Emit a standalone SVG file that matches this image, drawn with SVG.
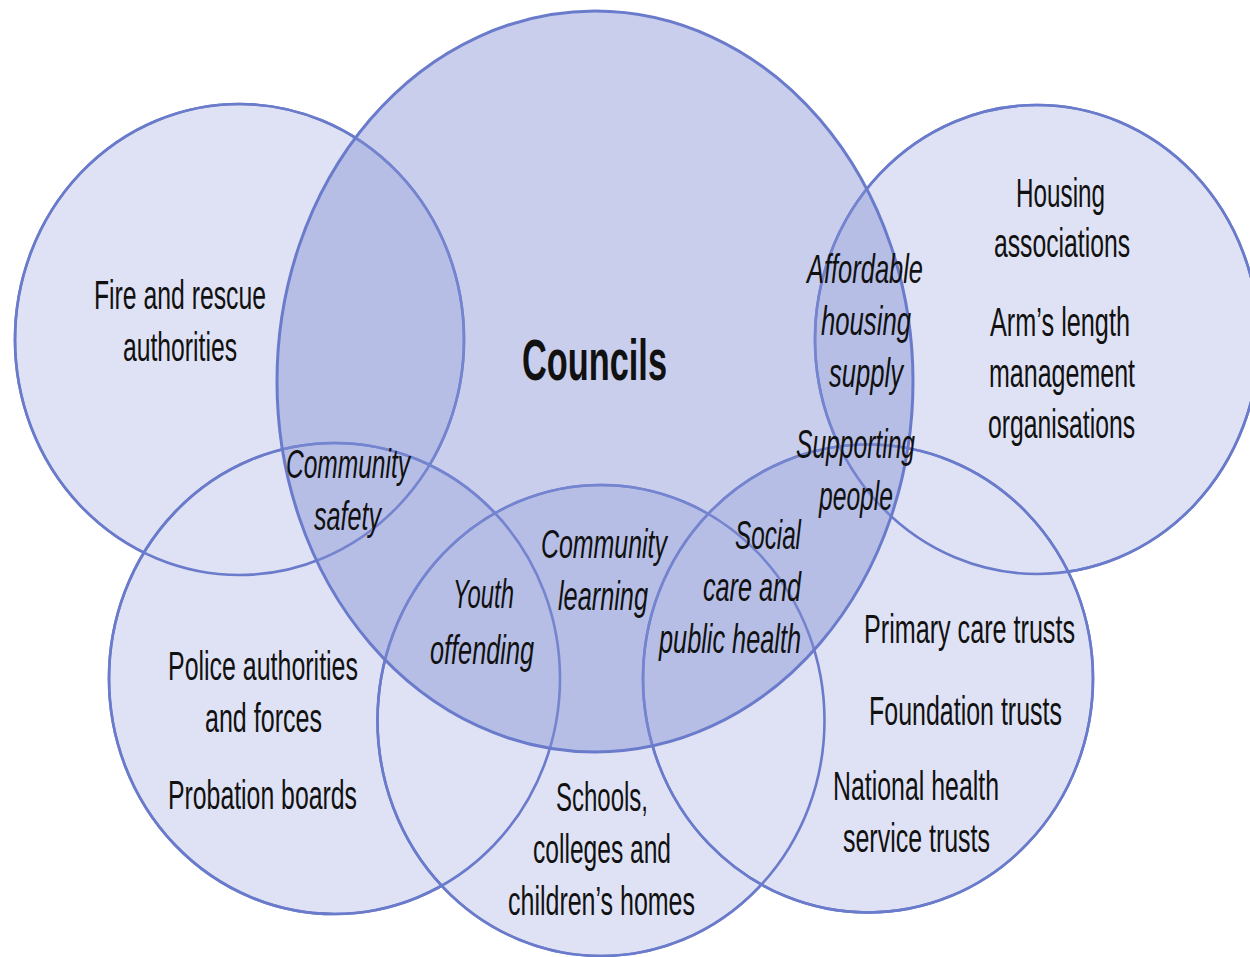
<svg xmlns="http://www.w3.org/2000/svg" xmlns:xlink="http://www.w3.org/1999/xlink" width="1250" height="957" viewBox="0 0 1250 957">
<style>
.outer{fill:#dfe2f4;stroke:#6a7bcb;stroke-width:2.6}
.line{fill:none;stroke:#6a7bcb;stroke-width:2.6}
.council{fill:#8290d4;fill-opacity:0.44;stroke:none}
.councilline{fill:none;stroke:#6a7bcb;stroke-width:3}
text{font-family:"Liberation Sans","Arial",sans-serif;font-size:40px;fill:#111;}
.it{font-style:italic}
.bold{font-weight:bold;font-size:58px}
</style>
<defs>
<ellipse id="e-fire" cx="239.5" cy="339.5" rx="224.5" ry="235.5"/>
<ellipse id="e-housing" cx="1037" cy="339.5" rx="222" ry="234.5"/>
<ellipse id="e-police" cx="334.5" cy="678.5" rx="225.5" ry="235.5"/>
<ellipse id="e-schools" cx="601" cy="720.5" rx="223.5" ry="235.5"/>
<ellipse id="e-health" cx="868" cy="678.5" rx="225" ry="234"/>
<ellipse id="e-councils" cx="595" cy="381.5" rx="318" ry="370.5"/>
</defs>
<rect width="1250" height="957" fill="#ffffff"/>
<g id="fire">
<use xlink:href="#e-fire" class="outer"/>
<text x="94" y="309" textLength="172" lengthAdjust="spacingAndGlyphs">Fire and rescue</text>
<text x="123" y="361" textLength="114" lengthAdjust="spacingAndGlyphs">authorities</text>
</g>
<g id="housing">
<use xlink:href="#e-housing" class="outer"/>
<text x="1016" y="207" textLength="89" lengthAdjust="spacingAndGlyphs">Housing</text>
<text x="994" y="257" textLength="136" lengthAdjust="spacingAndGlyphs">associations</text>
<text x="990" y="336" textLength="140" lengthAdjust="spacingAndGlyphs">Arm’s length</text>
<text x="989" y="387" textLength="146" lengthAdjust="spacingAndGlyphs">management</text>
<text x="988" y="438" textLength="147" lengthAdjust="spacingAndGlyphs">organisations</text>
</g>
<g id="police">
<use xlink:href="#e-police" class="outer"/>
<text transform="translate(168,680) scale(0.6239,1)" x="0" y="0" textLength="304.5" lengthAdjust="spacingAndGlyphs">Police authorities</text>
<text x="205" y="732" textLength="117" lengthAdjust="spacingAndGlyphs">and forces</text>
<text x="168" y="809" textLength="189" lengthAdjust="spacingAndGlyphs">Probation boards</text>
</g>
<g id="schools">
<use xlink:href="#e-schools" class="outer"/>
<text x="556" y="811" textLength="92" lengthAdjust="spacingAndGlyphs">Schools,</text>
<text x="533" y="863" textLength="138" lengthAdjust="spacingAndGlyphs">colleges and</text>
<text x="508" y="915" textLength="187" lengthAdjust="spacingAndGlyphs">children’s homes</text>
</g>
<g id="health">
<use xlink:href="#e-health" class="outer"/>
<text x="864" y="643" textLength="211" lengthAdjust="spacingAndGlyphs">Primary care trusts</text>
<text x="869" y="725" textLength="193" lengthAdjust="spacingAndGlyphs">Foundation trusts</text>
<text x="833" y="800" textLength="166" lengthAdjust="spacingAndGlyphs">National health</text>
<text x="843" y="852" textLength="147" lengthAdjust="spacingAndGlyphs">service trusts</text>
</g>
<g id="connectors">
<use xlink:href="#e-fire" class="line"/>
<use xlink:href="#e-housing" class="line"/>
<use xlink:href="#e-police" class="line"/>
<use xlink:href="#e-schools" class="line"/>
<use xlink:href="#e-health" class="line"/>
</g>
<g id="councils">
<use xlink:href="#e-councils" class="council"/>
<use xlink:href="#e-councils" class="councilline"/>
<text class="bold" x="522" y="380" textLength="145" lengthAdjust="spacingAndGlyphs">Councils</text>
</g>
<g id="overlaps">
<text class="it" x="286" y="478" textLength="124" lengthAdjust="spacingAndGlyphs">Community</text>
<text class="it" x="314" y="530" textLength="67" lengthAdjust="spacingAndGlyphs">safety</text>
<text class="it" x="453" y="608" textLength="61" lengthAdjust="spacingAndGlyphs">Youth</text>
<text class="it" x="430" y="664" textLength="104" lengthAdjust="spacingAndGlyphs">offending</text>
<text class="it" x="541" y="558" textLength="126" lengthAdjust="spacingAndGlyphs">Community</text>
<text class="it" x="558" y="610" textLength="90" lengthAdjust="spacingAndGlyphs">learning</text>
<text class="it" x="735" y="549" textLength="66" lengthAdjust="spacingAndGlyphs">Social</text>
<text class="it" x="703" y="601" textLength="98" lengthAdjust="spacingAndGlyphs">care and</text>
<text class="it" x="659" y="653" textLength="142" lengthAdjust="spacingAndGlyphs">public health</text>
<text class="it" x="807" y="283" textLength="116" lengthAdjust="spacingAndGlyphs">Affordable</text>
<text class="it" x="821" y="335" textLength="90" lengthAdjust="spacingAndGlyphs">housing</text>
<text class="it" x="829" y="387" textLength="74" lengthAdjust="spacingAndGlyphs">supply</text>
<text class="it" x="796" y="458" textLength="119" lengthAdjust="spacingAndGlyphs">Supporting</text>
<text class="it" x="819" y="510" textLength="74" lengthAdjust="spacingAndGlyphs">people</text>
</g>
</svg>
